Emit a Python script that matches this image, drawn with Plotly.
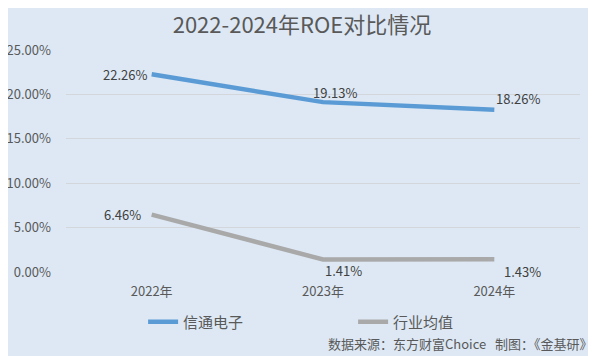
import plotly.graph_objects as go

categories = ["2022年", "2023年", "2024年"]
company = [22.26, 19.13, 18.26]
industry = [6.46, 1.41, 1.43]
series_names = ["信通电子", "行业均值"]
title_text = "2022-2024年ROE对比情况"
source_text = "数据来源：东方财富Choice   制图：《金基研》"
yticks = [0, 5, 10, 15, 20, 25]

FONT = "Noto Sans CJK SC, Microsoft YaHei, sans-serif"
BG = "#dde8f4"
TXT = "#595959"

fig = go.Figure()
fig.add_trace(go.Scatter(x=categories, y=company, mode="lines", name=series_names[0],
                         line=dict(color="#5b9bd5", width=4.5)))
fig.add_trace(go.Scatter(x=categories, y=industry, mode="lines", name=series_names[1],
                         line=dict(color="#a9a9a9", width=4.5)))

# data labels
offsets_c = [(-27, 0), (12, 10), (24, 11)]
offsets_i = [(-29, 0), (20, -11), (28, -12)]
for cat, v, (dx, dy) in zip(categories, company, offsets_c):
    fig.add_annotation(x=cat, y=v, text=f"{v:.2f}%", showarrow=False,
                       xshift=dx, yshift=dy, font=dict(size=13, color="#404040", family=FONT))
for cat, v, (dx, dy) in zip(categories, industry, offsets_i):
    fig.add_annotation(x=cat, y=v, text=f"{v:.2f}%", showarrow=False,
                       xshift=dx, yshift=dy, font=dict(size=13, color="#404040", family=FONT))

fig.add_annotation(x=1, xref="paper", y=-0.32, yref="paper", xanchor="right", yanchor="middle",
                   text=source_text, showarrow=False, xshift=14,
                   font=dict(size=13, color=TXT, family=FONT))

fig.update_layout(
    width=588, height=348,
    paper_bgcolor=BG, plot_bgcolor=BG,
    margin=dict(l=58, r=16, t=42, b=84, autoexpand=False),
    title=dict(text=title_text, x=0.5, xref="container", xanchor="center", y=0.951, yanchor="middle",
               font=dict(size=22, color=TXT, family=FONT)),
    font=dict(family=FONT, color=TXT),
    showlegend=True,
    legend=dict(orientation="h", x=0.150, xanchor="left", y=-0.225, yanchor="middle",
                font=dict(size=15, color=TXT, family=FONT),
                entrywidth=165, traceorder="normal", bgcolor="rgba(0,0,0,0)"),
    xaxis=dict(showgrid=False, showline=False, zeroline=False, ticks="",
               tickfont=dict(size=13, color=TXT, family=FONT), range=[-0.5, 2.5],
               ticklabelstandoff=10, automargin=False),
    yaxis=dict(range=[0, 25], tickvals=yticks, ticktext=[f"{t:.2f}%" for t in yticks],
               showgrid=True, gridcolor="#d3d6db", gridwidth=1, zeroline=False, ticks="",
               tickfont=dict(size=13, color=TXT, family=FONT), ticklabelstandoff=14,
               automargin=False),
)

fig.write_html("out.html")
